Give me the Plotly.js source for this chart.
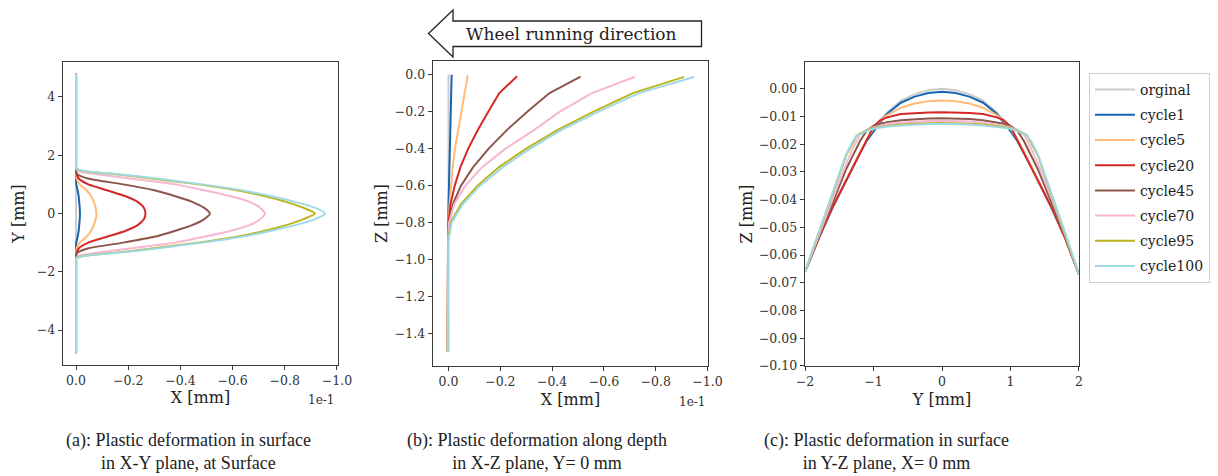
<!DOCTYPE html>
<html><head><meta charset="utf-8">
<script src="https://cdn.plot.ly/plotly-3.0.1.min.js"></script>
<style>html,body{margin:0;padding:0;background:#fff}#chart{width:1218px;height:476px}</style>
</head><body><div id="chart"></div>
<script>
// ---------- series ----------
const seriesNames = ['orginal','cycle1','cycle5','cycle20','cycle45','cycle70','cycle95','cycle100'];
const seriesColors = ['#cbcbcb','#1565b4','#ffbb78','#d62728','#8c564b','#f7b6d2','#bcb41e','#9edae5'];

// ---------- panel (a): X-Y plane at surface (X in units of 1e-1 mm) ----------
const Ya = [4.8, 3.2, 2.0, 1.65, 1.55, 1.45, 1.35, 1.2, 1.0, 0.8, 0.6, 0.4, 0.2, 0, -0.2, -0.4, -0.6, -0.8, -1.0, -1.2, -1.35, -1.45, -1.55, -1.65, -2.0, -3.2, -4.8];
const Xa_orginal  = [0,0,0,0,0,0,0,0,0,0,0,0,0,0,0,0,0,0,0,0,0,0,0,0,0,0,0];
const Xa_cycle1   = [0,0,0,0,0,0,0,0,-0.001,-0.006,-0.010,-0.012,-0.014,-0.015,-0.014,-0.012,-0.010,-0.006,-0.001,0,0,0,0,0,0,0,0];
const Xa_cycle5   = [0,0,0,0,0,0,0,-0.002,-0.014,-0.040,-0.057,-0.068,-0.075,-0.078,-0.075,-0.068,-0.057,-0.040,-0.014,-0.002,0,0,0,0,0,0,0];
const Xa_cycle20  = [0,0,0,0,0,0,-0.002,-0.010,-0.047,-0.118,-0.188,-0.236,-0.260,-0.266,-0.260,-0.236,-0.188,-0.118,-0.047,-0.010,-0.002,0,0,0,0,0,0];
const Xa_cycle45  = [0,0,0,0,0,0,-0.004,-0.045,-0.180,-0.300,-0.378,-0.445,-0.490,-0.513,-0.490,-0.445,-0.378,-0.300,-0.180,-0.045,-0.004,0,0,0,0,0,0];
const Xa_cycle70  = [0,0,0,0,0,-0.010,-0.080,-0.206,-0.380,-0.490,-0.590,-0.665,-0.705,-0.724,-0.705,-0.665,-0.590,-0.490,-0.380,-0.206,-0.080,-0.010,0,0,0,0,0];
const Xa_cycle95  = [0,0,0,0,0,-0.030,-0.150,-0.290,-0.470,-0.615,-0.720,-0.805,-0.870,-0.916,-0.870,-0.805,-0.720,-0.615,-0.470,-0.290,-0.150,-0.030,0,0,0,0,0];
const Xa_cycle100 = [0,0,0,0,0,-0.035,-0.160,-0.310,-0.485,-0.635,-0.745,-0.840,-0.915,-0.954,-0.915,-0.840,-0.745,-0.635,-0.485,-0.310,-0.160,-0.035,0,0,0,0,0];

// ---------- panel (b): X-Z plane, Y = 0 (X in units of 1e-1 mm) ----------
const Zb_orginal = [0, -1.5];
const Xb_orginal = [0, 0];
const Zb_cycle1   = [-0.001,-0.1,-0.2,-0.3,-0.4,-0.5,-0.6,-0.7,-0.8,-0.9,-1.5];
const Xb_cycle1   = [-0.012,-0.010,-0.008,-0.006,-0.004,-0.002,-0.001,0,0.001,0.002,0.003];
const Zb_cycle5   = [-0.004,-0.1,-0.2,-0.3,-0.4,-0.5,-0.6,-0.7,-0.8,-0.9,-1.5];
const Xb_cycle5   = [-0.074,-0.062,-0.048,-0.036,-0.025,-0.016,-0.009,-0.004,0,0.002,0.003];
const Zb_cycle20  = [-0.0085,-0.1,-0.2,-0.3,-0.4,-0.5,-0.6,-0.7,-0.8,-0.9,-1.5];
const Xb_cycle20  = [-0.265,-0.196,-0.154,-0.113,-0.076,-0.046,-0.024,-0.008,0,0.002,0.003];
const Zb_cycle45  = [-0.0106,-0.1,-0.2,-0.3,-0.4,-0.5,-0.6,-0.7,-0.8,-0.9,-1.5];
const Xb_cycle45  = [-0.510,-0.390,-0.305,-0.225,-0.155,-0.095,-0.048,-0.017,-0.002,0.002,0.003];
const Zb_cycle70  = [-0.0115,-0.1,-0.2,-0.3,-0.4,-0.5,-0.6,-0.7,-0.8,-0.9,-1.5];
const Xb_cycle70  = [-0.720,-0.554,-0.430,-0.330,-0.220,-0.130,-0.065,-0.022,-0.002,0.002,0.003];
const Zb_cycle95  = [-0.0123,-0.1,-0.2,-0.3,-0.4,-0.5,-0.6,-0.7,-0.8,-0.9,-1.5];
const Xb_cycle95  = [-0.910,-0.712,-0.560,-0.420,-0.300,-0.195,-0.112,-0.048,-0.008,0.002,0.003];
const Zb_cycle100 = [-0.0126,-0.1,-0.2,-0.3,-0.4,-0.5,-0.6,-0.7,-0.8,-0.9,-1.5];
const Xb_cycle100 = [-0.948,-0.735,-0.580,-0.435,-0.315,-0.210,-0.122,-0.055,-0.012,0.001,0.003];

// ---------- panel (c): Y-Z plane, X = 0 ----------
const Yc = [-2,-1.8,-1.6,-1.5,-1.4,-1.3,-1.25,-1.2,-1.1,-1.0,-0.9,-0.8,-0.6,-0.4,-0.2,0,0.2,0.4,0.6,0.8,0.9,1.0,1.1,1.2,1.25,1.3,1.4,1.5,1.6,1.8,2];
const Zc_orginal  = [-0.066,-0.054,-0.043,-0.038,-0.033,-0.028,-0.0255,-0.023,-0.0185,-0.0150,-0.0115,-0.0085,-0.0042,-0.0019,-0.0005,0,-0.0005,-0.0019,-0.0042,-0.0085,-0.0115,-0.0150,-0.0185,-0.023,-0.0255,-0.028,-0.033,-0.038,-0.043,-0.054,-0.067];
const Zc_cycle1   = [-0.066,-0.054,-0.043,-0.038,-0.033,-0.028,-0.0256,-0.0232,-0.0188,-0.0153,-0.0120,-0.0090,-0.0050,-0.0028,-0.0015,-0.0010,-0.0015,-0.0028,-0.0050,-0.0090,-0.0120,-0.0153,-0.0188,-0.0232,-0.0256,-0.028,-0.033,-0.038,-0.043,-0.054,-0.067];
const Zc_cycle5   = [-0.066,-0.054,-0.0428,-0.0378,-0.0328,-0.0277,-0.0252,-0.0227,-0.0182,-0.0143,-0.0115,-0.0095,-0.0068,-0.0053,-0.0045,-0.0042,-0.0045,-0.0053,-0.0068,-0.0095,-0.0115,-0.0143,-0.0182,-0.0227,-0.0252,-0.0277,-0.0328,-0.0378,-0.0428,-0.054,-0.067];
const Zc_cycle20  = [-0.066,-0.054,-0.0428,-0.0378,-0.0330,-0.0283,-0.0259,-0.0234,-0.0185,-0.0135,-0.0113,-0.0103,-0.0091,-0.0087,-0.0085,-0.0084,-0.0085,-0.0087,-0.0091,-0.0103,-0.0113,-0.0135,-0.0185,-0.0234,-0.0259,-0.0283,-0.0330,-0.0378,-0.0428,-0.054,-0.067];
const Zc_cycle45  = [-0.066,-0.0535,-0.0410,-0.0350,-0.0290,-0.0240,-0.0215,-0.0190,-0.0150,-0.0134,-0.0126,-0.0120,-0.0113,-0.0109,-0.0107,-0.0106,-0.0107,-0.0109,-0.0113,-0.0120,-0.0126,-0.0134,-0.0150,-0.0190,-0.0215,-0.0240,-0.0290,-0.0350,-0.0410,-0.0535,-0.067];
const Zc_cycle70  = [-0.066,-0.0528,-0.0395,-0.0330,-0.0270,-0.0215,-0.0190,-0.0166,-0.0148,-0.0139,-0.0133,-0.0128,-0.0122,-0.0118,-0.0116,-0.0115,-0.0116,-0.0118,-0.0122,-0.0128,-0.0133,-0.0139,-0.0148,-0.0166,-0.0190,-0.0215,-0.0270,-0.0330,-0.0395,-0.0528,-0.067];
const Zc_cycle95  = [-0.066,-0.0522,-0.0382,-0.0312,-0.0240,-0.0195,-0.0170,-0.0162,-0.0150,-0.0142,-0.0138,-0.0134,-0.0129,-0.0126,-0.0124,-0.0123,-0.0124,-0.0126,-0.0129,-0.0134,-0.0138,-0.0142,-0.0150,-0.0162,-0.0170,-0.0195,-0.0240,-0.0312,-0.0382,-0.0522,-0.067];
const Zc_cycle100 = [-0.066,-0.0520,-0.0378,-0.0308,-0.0236,-0.0188,-0.0172,-0.0164,-0.0152,-0.0144,-0.0140,-0.0136,-0.0132,-0.0129,-0.0127,-0.0126,-0.0127,-0.0129,-0.0132,-0.0136,-0.0140,-0.0144,-0.0152,-0.0164,-0.0172,-0.0188,-0.0236,-0.0308,-0.0378,-0.0520,-0.067];

// tick labels
const ticksA_x = [0, -0.2, -0.4, -0.6, -0.8, -1.0];
const ticksA_y = [-4, -2, 0, 2, 4];
const ticksB_x = [0, -0.2, -0.4, -0.6, -0.8, -1.0];
const ticksB_y = [0, -0.2, -0.4, -0.6, -0.8, -1.0, -1.2, -1.4];
const ticksC_x = [-2, -1, 0, 1, 2];
const ticksC_y = [0, -0.01, -0.02, -0.03, -0.04, -0.05, -0.06, -0.07, -0.08, -0.09, -0.10];

// ---------- build traces ----------
const XA = [Xa_orginal, Xa_cycle1, Xa_cycle5, Xa_cycle20, Xa_cycle45, Xa_cycle70, Xa_cycle95, Xa_cycle100];
const XB = [Xb_orginal, Xb_cycle1, Xb_cycle5, Xb_cycle20, Xb_cycle45, Xb_cycle70, Xb_cycle95, Xb_cycle100];
const ZB = [Zb_orginal, Zb_cycle1, Zb_cycle5, Zb_cycle20, Zb_cycle45, Zb_cycle70, Zb_cycle95, Zb_cycle100];
const ZC = [Zc_orginal, Zc_cycle1, Zc_cycle5, Zc_cycle20, Zc_cycle45, Zc_cycle70, Zc_cycle95, Zc_cycle100];

const traces = [];
seriesNames.forEach((n, i) => {
  traces.push({x: XA[i], y: Ya, xaxis: 'x', yaxis: 'y', mode: 'lines', name: n, legendgroup: n, showlegend: false,
    line: {color: seriesColors[i], width: 2, shape: 'spline', smoothing: 0.6}});
});
seriesNames.forEach((n, i) => {
  traces.push({x: XB[i], y: ZB[i], xaxis: 'x2', yaxis: 'y2', mode: 'lines', name: n, legendgroup: n, showlegend: false,
    line: {color: seriesColors[i], width: 2}});
});
seriesNames.forEach((n, i) => {
  traces.push({x: Yc, y: ZC[i], xaxis: 'x3', yaxis: 'y3', mode: 'lines', name: n, legendgroup: n, showlegend: true,
    line: {color: seriesColors[i], width: 2}});
});

// ---------- layout ----------
const W = 1218, H = 476;
const px = v => v / W, py = v => 1 - v / H;
const FONT = 'DejaVu Serif, Liberation Serif, serif';
const CAP = 'Liberation Serif, serif';
function ax(extra) {
  return Object.assign({
    showline: true, mirror: true, linecolor: '#3a3a3a', linewidth: 1.3,
    ticks: 'outside', ticklen: 4, tickwidth: 1, tickcolor: '#3a3a3a',
    showgrid: false, zeroline: false, automargin: false,
    tickfont: {family: FONT, size: 12.5, color: '#333'}
  }, extra);
}
const tf = {family: FONT, size: 16, color: '#222'};

const layout = {
  width: W, height: H,
  margin: {l: 0, r: 0, t: 0, b: 0},
  paper_bgcolor: '#fff', plot_bgcolor: '#fff',
  font: {family: FONT, color: '#222'},
  showlegend: true,
  legend: {x: px(1089), y: py(73), xanchor: 'left', yanchor: 'top',
    bgcolor: '#fff', bordercolor: '#cfcfcf', borderwidth: 1, itemwidth: 40,
    font: {family: FONT, size: 14, color: '#222'}, tracegroupgap: 4},
  xaxis: ax({domain: [px(63), px(338)], anchor: 'y', range: [0.05, -1.004], tickvals: ticksA_x, tickformat: '.1f',
    title: {text: 'X [mm]', standoff: 4, font: tf}}),
  yaxis: ax({domain: [py(365), py(62)], anchor: 'x', range: [-5.2, 5.2], tickvals: ticksA_y,
    title: {text: 'Y [mm]', standoff: 8, font: tf}}),
  xaxis2: ax({domain: [px(433), px(708)], anchor: 'y2', range: [0.06, -1.002], tickvals: ticksB_x, tickformat: '.1f',
    title: {text: 'X [mm]', standoff: 5, font: tf}}),
  yaxis2: ax({domain: [py(366), py(61)], anchor: 'x2', range: [-1.575, 0.0735], tickvals: ticksB_y, tickformat: '.1f',
    title: {text: 'Z [mm]', standoff: 3, font: tf}}),
  xaxis3: ax({domain: [px(805), px(1079)], anchor: 'y3', range: [-2.0005, 2.0005], tickvals: ticksC_x,
    title: {text: 'Y [mm]', standoff: 5, font: tf}}),
  yaxis3: ax({domain: [py(366), py(62)], anchor: 'x3', range: [-0.10005, 0.0097], tickvals: ticksC_y, tickformat: '.2f',
    title: {text: 'Z [mm]', standoff: 2, font: tf}}),
  shapes: [{
    type: 'path', xref: 'paper', yref: 'paper',
    path: `M ${px(428.5)},${py(33.5)} L ${px(453)},${py(10)} L ${px(453)},${py(21)} L ${px(701.5)},${py(21)} L ${px(701.5)},${py(46.5)} L ${px(453)},${py(46.5)} L ${px(453)},${py(57)} Z`,
    line: {color: '#222', width: 1.3}, fillcolor: '#fff'
  }],
  annotations: [
    {text: 'Wheel running direction', x: px(571), y: py(34), xref: 'paper', yref: 'paper', showarrow: false,
      xanchor: 'center', yanchor: 'middle', font: {family: FONT, size: 17, color: '#222'}},
    {text: '1e-1', x: px(321), y: py(400), xref: 'paper', yref: 'paper', showarrow: false,
      xanchor: 'center', yanchor: 'middle', font: {family: FONT, size: 12, color: '#333'}},
    {text: '1e-1', x: px(692), y: py(402), xref: 'paper', yref: 'paper', showarrow: false,
      xanchor: 'center', yanchor: 'middle', font: {family: FONT, size: 12, color: '#333'}},
    {text: '(a): Plastic deformation in surface<br>in X-Y plane, at Surface', x: px(188), y: py(451), xref: 'paper', yref: 'paper',
      showarrow: false, align: 'center', xanchor: 'center', yanchor: 'middle', font: {family: CAP, size: 18, color: '#222'}},
    {text: '(b): Plastic deformation along depth<br>in X-Z plane, Y= 0 mm', x: px(537), y: py(451), xref: 'paper', yref: 'paper',
      showarrow: false, align: 'center', xanchor: 'center', yanchor: 'middle', font: {family: CAP, size: 18, color: '#222'}},
    {text: '(c): Plastic deformation in surface<br>in Y-Z plane, X= 0 mm', x: px(886), y: py(451), xref: 'paper', yref: 'paper',
      showarrow: false, align: 'center', xanchor: 'center', yanchor: 'middle', font: {family: CAP, size: 18, color: '#222'}}
  ]
};

Plotly.newPlot('chart', traces, layout, {displayModeBar: false, staticPlot: true});
</script>
</body></html>
